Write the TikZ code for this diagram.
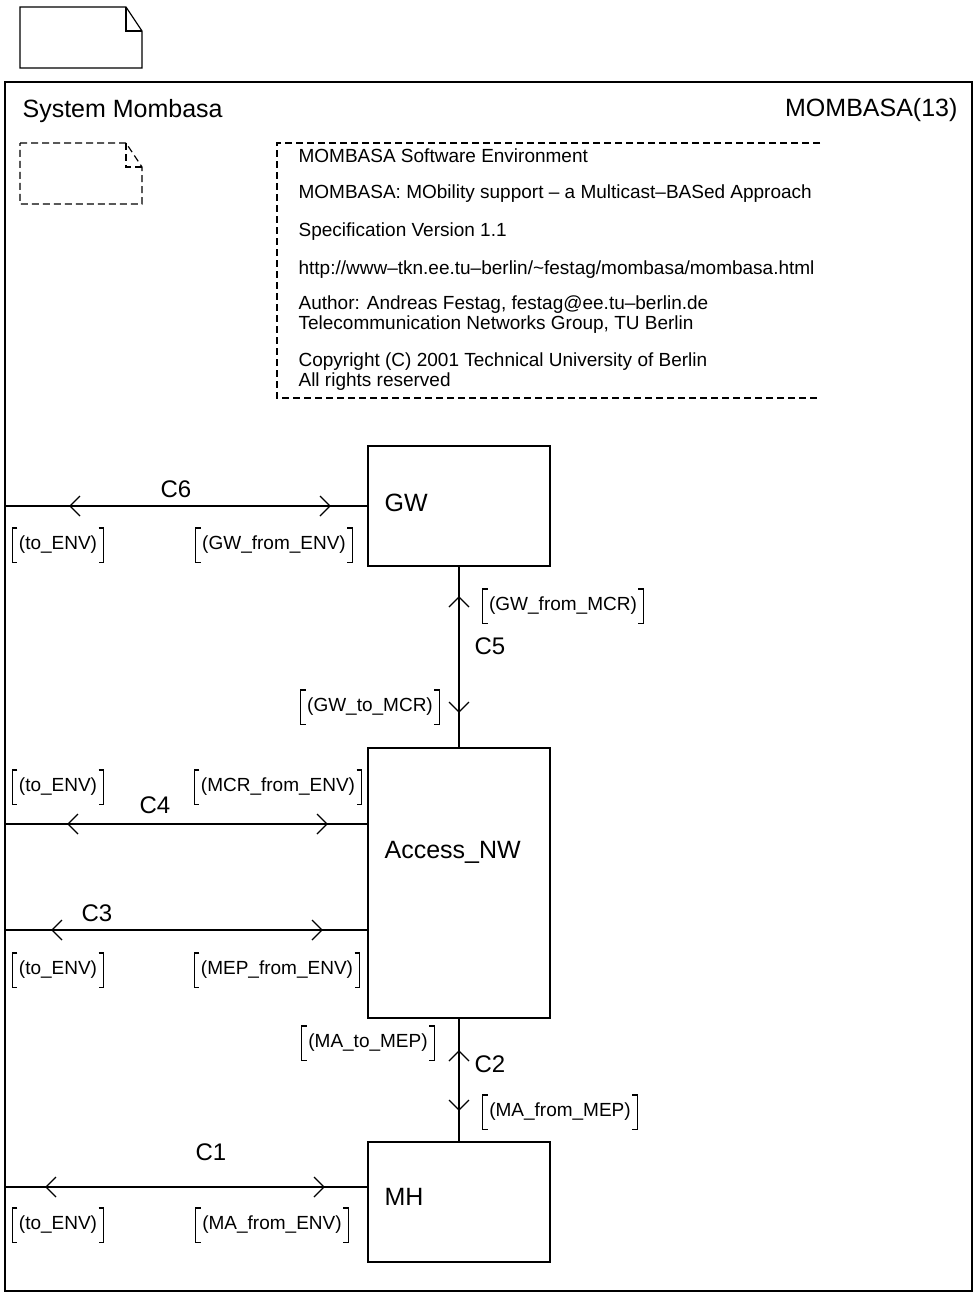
\documentclass[tikz,border=0pt]{standalone}
\usepackage{fontspec}
\setmainfont{Liberation Sans}
\newcommand\siglab[3]{%
  \node[sig] (#1) at #2 {#3};
  \draw ([xshift=5pt]#1.north west) -- (#1.north west) -- (#1.south west) -- ([xshift=5pt]#1.south west);
  \draw ([xshift=-5pt]#1.north east) -- (#1.north east) -- (#1.south east) -- ([xshift=-5pt]#1.south east);}
\begin{document}
\begin{tikzpicture}[x=1pt,y=-1pt,line width=1.2pt,
  big/.style={font=\fontsize{25}{30}\selectfont,inner sep=0pt},
  chn/.style={font=\fontsize{24}{28}\selectfont,inner sep=0pt},
  cmt/.style={font=\fontsize{19}{22}\selectfont,inner sep=0pt,anchor=base west},
  sig/.style={font=\fontsize{19}{22}\selectfont,inner xsep=6pt,inner ysep=0pt,minimum height=33pt},
  blk/.style={draw,inner sep=0pt,outer sep=0pt,minimum width=182pt},
  dsh/.style={dash pattern=on 7pt off 4pt},
  chevL/.pic={\draw (10,-10) -- (0,0) -- (10,10);},
  chevR/.pic={\draw (-10,-10) -- (0,0) -- (-10,10);},
  chevU/.pic={\draw (-10,10) -- (0,0) -- (10,10);},
  chevD/.pic={\draw (-10,-10) -- (0,0) -- (10,-10);}]
\fill[white] (0,0) rectangle (976,1293);
\useasboundingbox (0,0) rectangle (976,1293);
% page symbol
\draw (20,7) -- (126,7) -- (142,31) -- (142,68) -- (20,68) -- cycle;
\draw (126,7) -- (126,31) -- (142,31);
% frame
\draw (5,82) rectangle (972,1291);
\node[big,anchor=base west] (title) at (22,117) {System Mombasa};
\node[big,anchor=base east] (pnum) at (958,116) {MOMBASA(13)};
% dashed page symbol
\draw[dsh] (20,143) -- (126,143) -- (142,167) -- (142,204) -- (20,204) -- cycle;
\draw[dsh] (126,143) -- (126,167) -- (142,167);
% comment
\draw[dsh] (820,143) -- (277,143) -- (277,398) -- (820,398);
\node[cmt] (cm1) at (298,162) {MOMBASA Software Environment};
\node[cmt] (cm2) at (298,198) {MOMBASA: MObility support – a Multicast–BASed Approach};
\node[cmt] (cm3) at (298,236) {Specification Version 1.1};
\node[cmt] (cm4) at (298,274) {http://www–tkn.ee.tu–berlin/\textasciitilde festag/mombasa/mombasa.html};
\node[cmt] (cm5) at (298,309) {Author: Andreas Festag, festag@ee.tu–berlin.de};
\node[cmt] (cm6) at (298,329) {Telecommunication Networks Group, TU Berlin};
\node[cmt] (cm7) at (298,366) {Copyright (C) 2001 Technical University of Berlin};
\node[cmt] (cm8) at (298,386) {All rights reserved};
% blocks
\node[blk,minimum height=120pt] (GW) at (459,506) {};
\node[blk,minimum height=270pt] (AN) at (459,883) {};
\node[blk,minimum height=120pt] (MH) at (459,1202) {};
\node[big,anchor=base west] (GWl) at (384,511) {GW};
\node[big,anchor=base west] (ANl) at (384,858) {Access\_NW};
\node[big,anchor=base west] (MHl) at (384,1205) {MH};
% env coordinates
\coordinate (e6) at (5,506);
\coordinate (e4) at (5,824);
\coordinate (e3) at (5,930);
\coordinate (e1) at (5,1187);
% channels
\draw (e6) -- (GW.west);
\draw (e4) -- (e4 -| AN.west);
\draw (e3) -- (e3 -| AN.west);
\draw (e1) -- (e1 -| MH.west);
\draw (GW.south) -- (AN.north);
\draw (AN.south) -- (MH.north);
% arrowheads
\pic at (70,506) {chevL}; \pic at (330,506) {chevR};
\pic at (68,824) {chevL}; \pic at (327,824) {chevR};
\pic at (52,930) {chevL}; \pic at (322,930) {chevR};
\pic at (46,1187) {chevL}; \pic at (324,1187) {chevR};
\pic at (459,597) {chevU}; \pic at (459,712) {chevD};
\pic at (459,1051) {chevU}; \pic at (459,1110) {chevD};
% channel names
\node[chn] (c6) at (176,489) {C6};
\node[chn] (c5) at (490,646) {C5};
\node[chn] (c4) at (155,805) {C4};
\node[chn] (c3) at (97,913) {C3};
\node[chn] (c2) at (490,1064) {C2};
\node[chn] (c1) at (211,1152) {C1};
% signal lists
\siglab{s6a}{(58,545)}{(to\_ENV)}
\siglab{s6b}{(274,545)}{(GW\_from\_ENV)}
\siglab{s5a}{(563,606)}{(GW\_from\_MCR)}
\siglab{s5b}{(370,707)}{(GW\_to\_MCR)}
\siglab{s4a}{(58,787)}{(to\_ENV)}
\siglab{s4b}{(278,787)}{(MCR\_from\_ENV)}
\siglab{s3a}{(58,970)}{(to\_ENV)}
\siglab{s3b}{(277,970)}{(MEP\_from\_ENV)}
\siglab{s2a}{(368,1043)}{(MA\_to\_MEP)}
\siglab{s2b}{(560,1112)}{(MA\_from\_MEP)}
\siglab{s1a}{(58,1225)}{(to\_ENV)}
\siglab{s1b}{(272,1225)}{(MA\_from\_ENV)}
\end{tikzpicture}
\end{document}
